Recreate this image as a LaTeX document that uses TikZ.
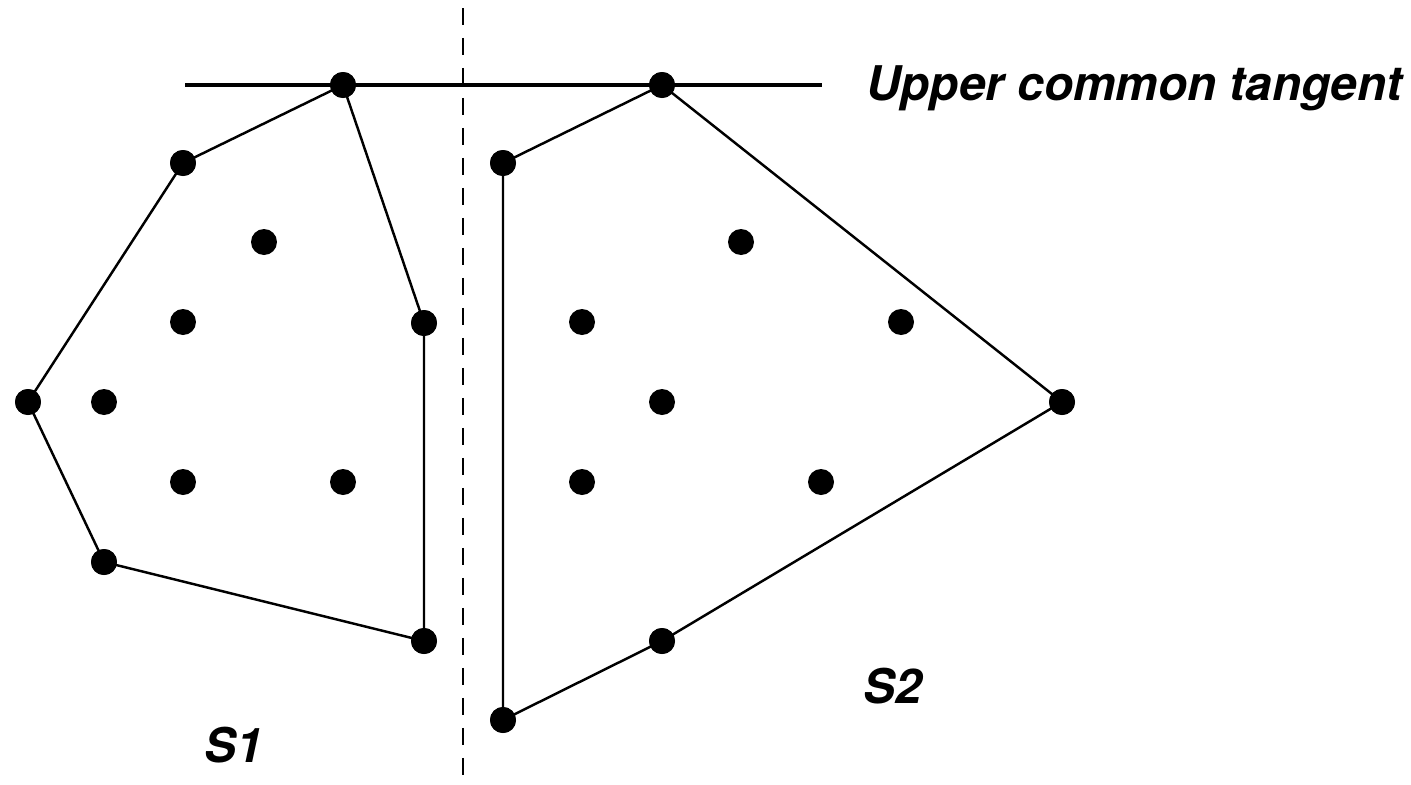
\documentclass[tikz,border=0pt]{standalone}
\usepackage{fontspec}
\setmainfont{TeX Gyre Heros}
\begin{document}
\begin{tikzpicture}[x=0.02cm,y=-0.02cm,
  pt/.style={circle,fill=black,inner sep=0pt,minimum size=0.52cm},
  hull/.style={line width=1.4pt},
  tangent/.style={line width=2pt},
  divider/.style={line width=1.2pt,dash pattern=on 0.34cm off 0.26cm},
  lbl/.style={font=\fontsize{27.2}{32}\selectfont\bfseries\itshape,inner sep=0pt}]
\useasboundingbox (0,0) rectangle (1411,785);

% dividing line
\coordinate (dtop) at (463,8);
\coordinate (dbot) at (463,785);
\draw[divider] (dtop) -- (dbot);

% tangent line
\coordinate (tl) at (185,85);
\coordinate (tr) at (822,85);
\draw[tangent] (tl) -- (tr);

% set S1: hull vertices
\node[pt] (a1) at (343,85) {};
\node[pt] (a2) at (183,163) {};
\node[pt] (a3) at (28,402) {};
\node[pt] (a4) at (104,562) {};
\node[pt] (a5) at (424,641) {};
\node[pt] (a6) at (424,323) {};
% set S1: interior points
\node[pt] (i1) at (264,242) {};
\node[pt] (i2) at (183,322) {};
\node[pt] (i3) at (104,402) {};
\node[pt] (i4) at (183,482) {};
\node[pt] (i5) at (343,482) {};

% set S2: hull vertices
\node[pt] (b1) at (662,85) {};
\node[pt] (b2) at (503,163) {};
\node[pt] (b3) at (503,720) {};
\node[pt] (b4) at (662,641) {};
\node[pt] (b5) at (1062,402) {};
% set S2: interior points
\node[pt] (j1) at (741,242) {};
\node[pt] (j2) at (582,322) {};
\node[pt] (j3) at (901,322) {};
\node[pt] (j4) at (662,402) {};
\node[pt] (j5) at (582,482) {};
\node[pt] (j6) at (821,482) {};

% hull edges
\draw[hull] (a1.center) -- (a2.center) -- (a3.center) -- (a4.center) -- (a5.center) -- (a6.center) -- (a1.center);
\draw[hull] (b1.center) -- (b2.center) -- (b3.center) -- (b4.center) -- (b5.center) -- (b1.center);

% redraw dots over edges
\foreach \n in {a1,a2,a3,a4,a5,a6,b1,b2,b3,b4,b5}
  \fill (\n) circle (0.26cm);

% labels
\node[lbl,anchor=west] (ut) at (866,88) {Upper common tangent};
\node[lbl] (s1) at (234,745) {S1};
\node[lbl] (s2) at (893,686) {S2};
\end{tikzpicture}
\end{document}
